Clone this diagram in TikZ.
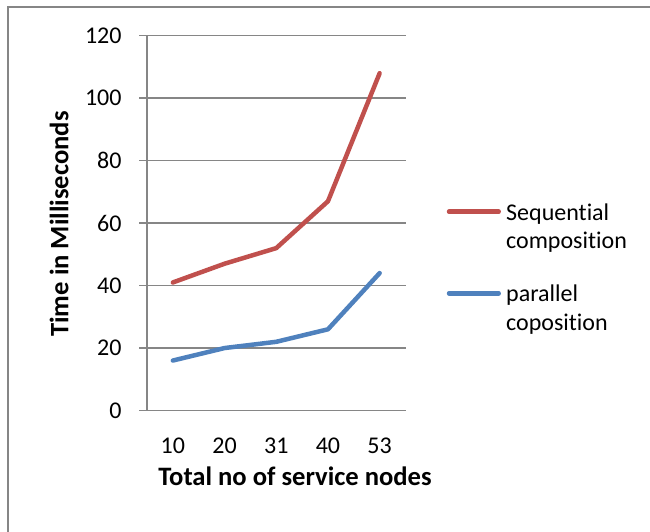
\documentclass[tikz,border=0pt]{standalone}
\usepackage{fontspec}
\setmainfont{Carlito}[Ligatures=NoCommon]

\definecolor{seqred}{HTML}{C0504D}
\definecolor{parblue}{HTML}{4F81BD}
\definecolor{gridgray}{HTML}{868686}

\tikzset{
  grid line/.style={draw=gridgray, line width=1.5pt},
  series/.style={line width=4.5pt, line cap=round, line join=round},
  tick label/.style={font=\fontsize{24}{29}\selectfont, inner sep=0pt},
  axis title/.style={font=\fontsize{26.6}{32}\selectfont\bfseries, inner sep=0pt},
  legend text/.style={font=\fontsize{24}{28.5}\selectfont, inner sep=0pt, align=left, anchor=west},
}

\begin{document}
\begin{tikzpicture}[x=1pt, y=-1pt]

\clip (0,0) rectangle (650,531);

% chart frame, runs off the right and bottom
\draw [color=gridgray, line width=1.5pt] (8,7) rectangle (700,600);

\begin{scope}[shift={(147,410.5)}, x=51.7pt, y=3.123pt]

\foreach \v in {0,20,...,120} {
  \draw [grid line] ([xshift=-8pt]0,\v) -- (5,\v);
  \node [tick label, anchor=east] (ytick\v) at ([xshift=-25.3pt]0,\v) {\v};
}
\draw [grid line] (0,0) -- (0,120);

\foreach \n [count=\i] in {10,20,31,40,53}
  \node [tick label] (xtick\n) at ([yshift=-35.5pt]\i-0.5,0) {\n};

%\draw [color=black!30] (0,0) -- (5,0);

\draw [series, color=seqred] (0.5,41) -- (1.5,47) -- (2.5,52) -- (3.5,67) -- (4.5,108);
\draw [series, color=parblue] (0.5,16) -- (1.5,20) -- (2.5,22) -- (3.5,26) -- (4.5,44);

\end{scope}

\node [axis title, anchor=base] (xtitle) at (295,485) {Total no of service nodes};
\node [axis title, anchor=base, rotate=90] (ytitle) at (68.4,224) {Time in Milliseconds};

% legend
\draw [series, color=seqred] (449,211.7) -- (498.7,211.7);
\node [legend text] (seqlabel) at (506,228) {Sequential\\composition};

\draw [series, color=parblue] (449,293.3) -- (498.7,293.3);
\node [legend text] (parlabel) at (506,309.7) {parallel\\coposition};

\end{tikzpicture}
\end{document}
